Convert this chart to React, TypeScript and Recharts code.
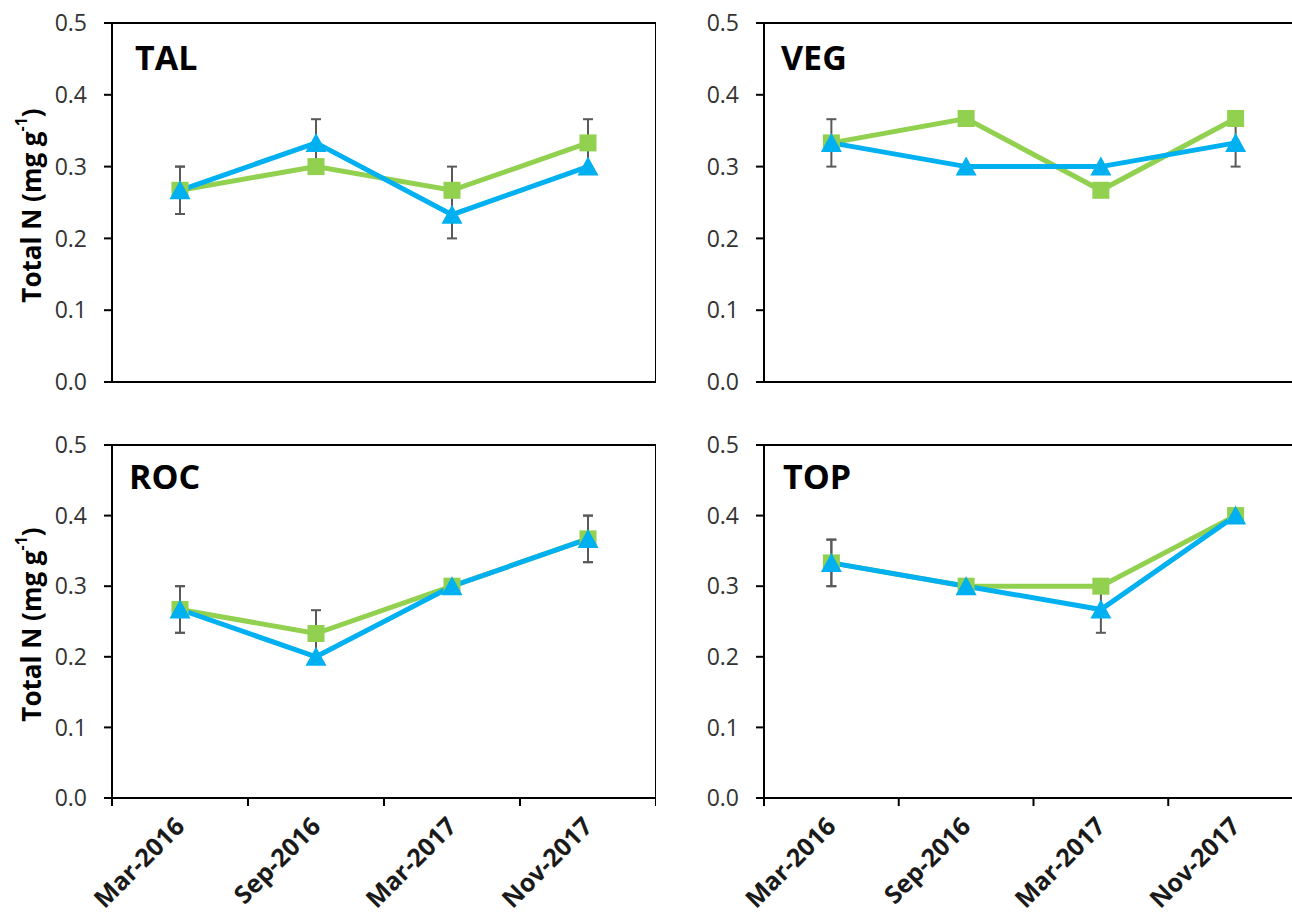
import React from "react";
import { LineChart, Line, XAxis, YAxis, ErrorBar, ReferenceLine, Label } from "recharts";

const categories = ["Mar-2016", "Sep-2016", "Mar-2017", "Nov-2017"];
const yTicks = [0, 0.1, 0.2, 0.3, 0.4, 0.5];
const xTicks = [0, 0.5, 1, 1.5, 2, 2.5, 3, 3.5, 4];

// green squares / blue triangles, with error bars (null = none visible)
const talSquare = [0.267, 0.3, 0.267, 0.333];
const talTriangle = [0.267, 0.333, 0.233, 0.3];
const talSquareErr = [0.033, null, 0.033, 0.033];
const talTriangleErr = [0.033, 0.033, 0.033, null];

const vegSquare = [0.333, 0.367, 0.267, 0.367];
const vegTriangle = [0.333, 0.3, 0.3, 0.333];
const vegSquareErr = [null, null, null, null];
const vegTriangleErr = [0.033, null, null, 0.033];

const rocSquare = [0.267, 0.233, 0.3, 0.367];
const rocTriangle = [0.267, 0.2, 0.3, 0.367];
const rocSquareErr = [0.033, 0.033, null, 0.033];
const rocTriangleErr = [0.033, null, null, 0.033];

const topSquare = [0.333, 0.3, 0.3, 0.4];
const topTriangle = [0.333, 0.3, 0.267, 0.4];
const topSquareErr = [0.033, null, null, null];
const topTriangleErr = [0.033, null, 0.033, null];

const GREEN = "#92D050";
const BLUE = "#00B0F0";
const FONT = "'Open Sans', 'Noto Sans', sans-serif";

const SquareDot = (p: any) => {
  const { cx, cy } = p;
  if (cx == null || cy == null) return null;
  return <rect x={cx - 8.5} y={cy - 8.5} width={17} height={17} fill={GREEN} />;
};

const TriangleDot = (p: any) => {
  const { cx, cy } = p;
  if (cx == null || cy == null) return null;
  return (
    <polygon
      points={`${cx},${cy - 10} ${cx - 10.5},${cy + 9} ${cx + 10.5},${cy + 9}`}
      fill={BLUE}
    />
  );
};

const XTick = (p: any) => {
  const { x, y, payload } = p;
  const v = payload.value;
  if (Number.isInteger(v)) {
    return <line x1={x} y1={y} x2={x} y2={y + 8} stroke="#000" strokeWidth={2} />;
  }
  const idx = Math.floor(v);
  const tx = x + 6;
  const ty = y + 30;
  return (
    <text
      x={tx}
      y={ty}
      transform={`rotate(-45 ${tx} ${ty})`}
      textAnchor="end"
      fontFamily={FONT}
      fontWeight="bold"
      fontSize={25}
      fill="#1a1a1a"
    >
      {categories[idx]}
    </text>
  );
};

const YTitle = (p: any) => {
  const vb = p.viewBox || {};
  const cx = (vb.x ?? 0) + 31;
  const cy = (vb.y ?? 0) + (vb.height ?? 0) / 2 + 3;
  return (
    <text
      x={cx}
      y={cy}
      transform={`rotate(-90 ${cx} ${cy})`}
      textAnchor="middle"
      dominantBaseline="central"
      fontFamily={FONT}
      fontWeight="bold"
      fontSize={26}
      fill="#000"
    >
      Total N (mg g
      <tspan dy={-10} fontSize={16}>-1</tspan>
      <tspan dy={10}>)</tspan>
    </text>
  );
};

type PanelProps = {
  title: string;
  sq: (number | null)[];
  tri: (number | null)[];
  sqErr: (number | null)[];
  triErr: (number | null)[];
  left: number;
  top: number;
  width: number;
  height: number;
  yAxisWidth: number;
  marginTop: number;
  xAxisHeight: number;
  showX: boolean;
  showYTitle: boolean;
  titleDx: number;
  titleDy: number;
};

function Panel(props: PanelProps) {
  const { title, sq, tri, sqErr, triErr, left, top, width, height, yAxisWidth, marginTop, xAxisHeight, showX, showYTitle, titleDx, titleDy } = props;
  const data = categories.map((c, i) => ({
    x: i + 0.5,
    name: c,
    sq: sq[i],
    tri: tri[i],
    sqErr: sqErr[i],
    triErr: triErr[i],
  }));
  const TitleContent = (p: any) => {
    const vb = p.viewBox || {};
    const x = (vb.x ?? 0) + titleDx;
    const y = (vb.y ?? 0) + titleDy;
    return (
      <text x={x} y={y} fontFamily={FONT} fontWeight="bold" fontSize={34} fill="#000">
        {title}
      </text>
    );
  };
  return (
    <div style={{ position: "absolute", left, top, width, height }}>
      <LineChart width={width} height={height} data={data} margin={{ top: marginTop, right: 0, bottom: 0, left: 0 }}>
        <XAxis
          dataKey="x"
          type="number"
          domain={[0, 4]}
          ticks={xTicks}
          interval={0}
          height={xAxisHeight}
          axisLine={{ stroke: "#000", strokeWidth: 2 }}
          tickLine={false}
          tickSize={0}
          tickMargin={0}
          tick={showX ? <XTick /> : false}
        />
        <YAxis
          type="number"
          domain={[0, 0.5]}
          ticks={yTicks}
          interval={0}
          width={yAxisWidth}
          tickFormatter={(v: number) => v.toFixed(1)}
          tickSize={8}
          tickMargin={17}
          axisLine={{ stroke: "#000", strokeWidth: 2 }}
          tickLine={{ stroke: "#000", strokeWidth: 2 }}
          tick={{ fontFamily: FONT, fontSize: 23, fill: "#333" }}
        >
          {showYTitle ? <Label content={<YTitle />} /> : null}
        </YAxis>
        <ReferenceLine y={0.5} stroke="#000" strokeWidth={2}>
          <Label content={<TitleContent />} />
        </ReferenceLine>
        <ReferenceLine x={4} stroke="#000" strokeWidth={2} />
        <Line dataKey="sq" stroke="none" dot={false} activeDot={false} isAnimationActive={false} legendType="none">
          <ErrorBar dataKey="sqErr" width={5} stroke="#595959" strokeWidth={2} direction="y" />
        </Line>
        <Line dataKey="tri" stroke="none" dot={false} activeDot={false} isAnimationActive={false} legendType="none">
          <ErrorBar dataKey="triErr" width={5} stroke="#595959" strokeWidth={2} direction="y" />
        </Line>
        <Line dataKey="sq" stroke={GREEN} strokeWidth={5} dot={<SquareDot />} activeDot={false} isAnimationActive={false} />
        <Line dataKey="tri" stroke={BLUE} strokeWidth={5} dot={<TriangleDot />} activeDot={false} isAnimationActive={false} />
      </LineChart>
    </div>
  );
}

export default function App() {
  return (
    <div style={{ position: "absolute", left: 0, top: 0, width: 1292, height: 920, overflow: "hidden", background: "#fff" }}>
      <Panel title="TAL" sq={talSquare} tri={talTriangle} sqErr={talSquareErr} triErr={talTriangleErr}
        left={0} top={0} width={656} height={420} yAxisWidth={112} marginTop={23} xAxisHeight={38}
        showX={false} showYTitle={true} titleDx={23} titleDy={47} />
      <Panel title="VEG" sq={vegSquare} tri={vegTriangle} sqErr={vegSquareErr} triErr={vegTriangleErr}
        left={656} top={0} width={647} height={420} yAxisWidth={108} marginTop={23} xAxisHeight={38}
        showX={false} showYTitle={false} titleDx={17} titleDy={47} />
      <Panel title="ROC" sq={rocSquare} tri={rocTriangle} sqErr={rocSquareErr} triErr={rocTriangleErr}
        left={0} top={420} width={656} height={500} yAxisWidth={112} marginTop={25} xAxisHeight={122}
        showX={true} showYTitle={true} titleDx={17} titleDy={44} />
      <Panel title="TOP" sq={topSquare} tri={topTriangle} sqErr={topSquareErr} triErr={topTriangleErr}
        left={656} top={420} width={647} height={500} yAxisWidth={108} marginTop={25} xAxisHeight={122}
        showX={true} showYTitle={false} titleDx={19} titleDy={44} />
    </div>
  );
}
